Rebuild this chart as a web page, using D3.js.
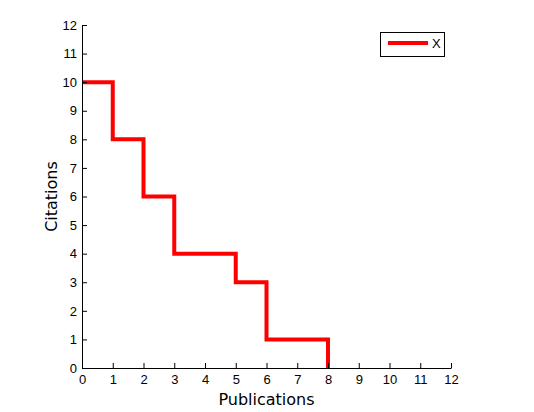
<!DOCTYPE html>
<html>
<head>
<meta charset="utf-8">
<script src="https://cdn.jsdelivr.net/npm/d3@7"></script>
<style>
  body { margin: 0; background: #fff; }
  .axis text { font-family: "Liberation Sans", Arial, sans-serif; font-size: 13px; fill: #000; }
  .axis path, .axis line { stroke: #000; stroke-width: 1px; }
</style>
</head>
<body>
<div id="chart"></div>
<script>
// data
var publications = [0, 1, 2, 3, 4, 5, 6, 7, 8];
var citations = [10, 8, 6, 4, 4, 3, 1, 1, 0];
var ticks = [0, 1, 2, 3, 4, 5, 6, 7, 8, 9, 10, 11, 12];
var seriesName = "X";

var width = 534, height = 412;
var mLeft = 82, mRight = 451, mTop = 25, mBottom = 368;

var svg = d3.select("#chart")
  .append("svg")
  .attr("width", width)
  .attr("height", height);

var x = d3.scaleLinear().domain([0, 12]).range([mLeft, mRight]);
var y = d3.scaleLinear().domain([0, 12]).range([mBottom, mTop]);

var points = publications.map(function(p, i) { return [p, citations[i]]; });

var line = d3.line()
  .x(function(d) { return x(d[0]); })
  .y(function(d) { return y(d[1]); })
  .curve(d3.curveStepAfter);

svg.append("path")
  .datum(points)
  .attr("d", line)
  .attr("fill", "none")
  .attr("stroke", "#ff0000")
  .attr("stroke-width", 4);

svg.append("g")
  .attr("class", "axis")
  .attr("transform", "translate(0," + mBottom + ")")
  .call(d3.axisBottom(x).tickValues(ticks).tickSize(-5).tickSizeOuter(0).tickPadding(4))
  .selectAll("text").attr("dy", "0.95em");

svg.append("g")
  .attr("class", "axis")
  .attr("transform", "translate(" + mLeft + ",0)")
  .call(d3.axisLeft(y).tickValues(ticks).tickSize(-5).tickSizeOuter(0).tickPadding(5));

svg.append("text")
  .attr("x", (mLeft + mRight) / 2)
  .attr("y", 405)
  .attr("text-anchor", "middle")
  .style("font-family", "'DejaVu Sans', sans-serif")
  .style("font-size", "16px")
  .text("Publications");

svg.append("text")
  .attr("transform", "translate(57," + (mTop + mBottom) / 2 + ") rotate(-90)")
  .attr("text-anchor", "middle")
  .style("font-family", "'DejaVu Sans', sans-serif")
  .style("font-size", "16px")
  .text("Citations");

// legend
var lg = svg.append("g");
lg.append("rect")
  .attr("x", 380.5).attr("y", 32.5)
  .attr("width", 64).attr("height", 24)
  .attr("fill", "#fff").attr("stroke", "#000");
lg.append("line")
  .attr("x1", 388).attr("x2", 428)
  .attr("y1", 43).attr("y2", 43)
  .attr("stroke", "#ff0000").attr("stroke-width", 4);
lg.append("text")
  .attr("x", 432).attr("y", 48)
  .style("font-family", "'Liberation Sans', sans-serif")
  .style("font-size", "13px")
  .text(seriesName);
</script>
</body>
</html>
